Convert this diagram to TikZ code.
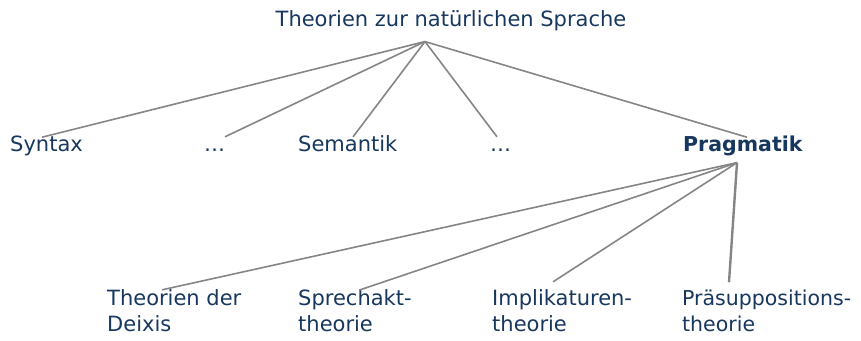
\documentclass[tikz,border=0pt]{standalone}
\usepackage{fontspec}
\setmainfont{DejaVu Sans}
\definecolor{txt}{HTML}{17375E}
\definecolor{ln}{HTML}{858585}
\begin{document}
\begin{tikzpicture}[x=1pt,y=-1pt,
  lbl/.style={inner sep=0pt,anchor=base west,text=txt,font=\fontsize{21}{26}\selectfont,align=left},
  dots/.style={lbl,text height=15pt},
  conn/.style={draw=ln,line width=1.6pt}]
\useasboundingbox (0,0) rectangle (861,340);
\node[lbl,anchor=base] (title) at (451,27) {Theorien zur natürlichen Sprache};
\node[lbl] (syn) at (10,151) {Syntax};
\node[dots] (d1) at (204,151) {…};
\node[lbl] (sem) at (298,151) {Semantik};
\node[dots] (d2) at (490,151) {…};
\node[lbl,font=\fontsize{20.5}{26}\selectfont\bfseries] (prag) at (683,151) {Pragmatik};
\node[lbl] (dei) at (107,331) {Theorien der\\Deixis};
\node[lbl] (spr) at (298,331) {Sprechakt-\\theorie};
\node[lbl] (imp) at (492,331) {Implikaturen-\\theorie};
\node[lbl,font=\fontsize{20.5}{26}\selectfont] (pra) at (682,331) {Präsuppositions-\\theorie};
\coordinate (top) at ([xshift=-26pt,yshift=-10pt]title.south);
\coordinate (pb) at ([xshift=54pt,yshift=-7pt]prag.south west);
\draw[conn] (top) -- ([xshift=32pt,yshift=-2pt]syn.north west);
\draw[conn] (top) -- ([xshift=21pt,yshift=-1pt]d1.north west);
\draw[conn] (top) -- ([xshift=55pt,yshift=-2pt]sem.north west);
\draw[conn] (top) -- ([xshift=7pt,yshift=-1pt]d2.north west);
\draw[conn] (top) -- ([xshift=64pt,yshift=-2pt]prag.north west);
\draw[conn] (pb) -- ([xshift=55pt,yshift=-1pt]dei.north west);
\draw[conn] (pb) -- ([xshift=62pt,yshift=-1pt]spr.north west);
\draw[conn] (pb) -- ([xshift=61pt,yshift=7pt]imp.north west);
\draw[conn,line width=2.4pt] (pb) -- ([xshift=47pt,yshift=7pt]pra.north west);
\end{tikzpicture}
\end{document}
